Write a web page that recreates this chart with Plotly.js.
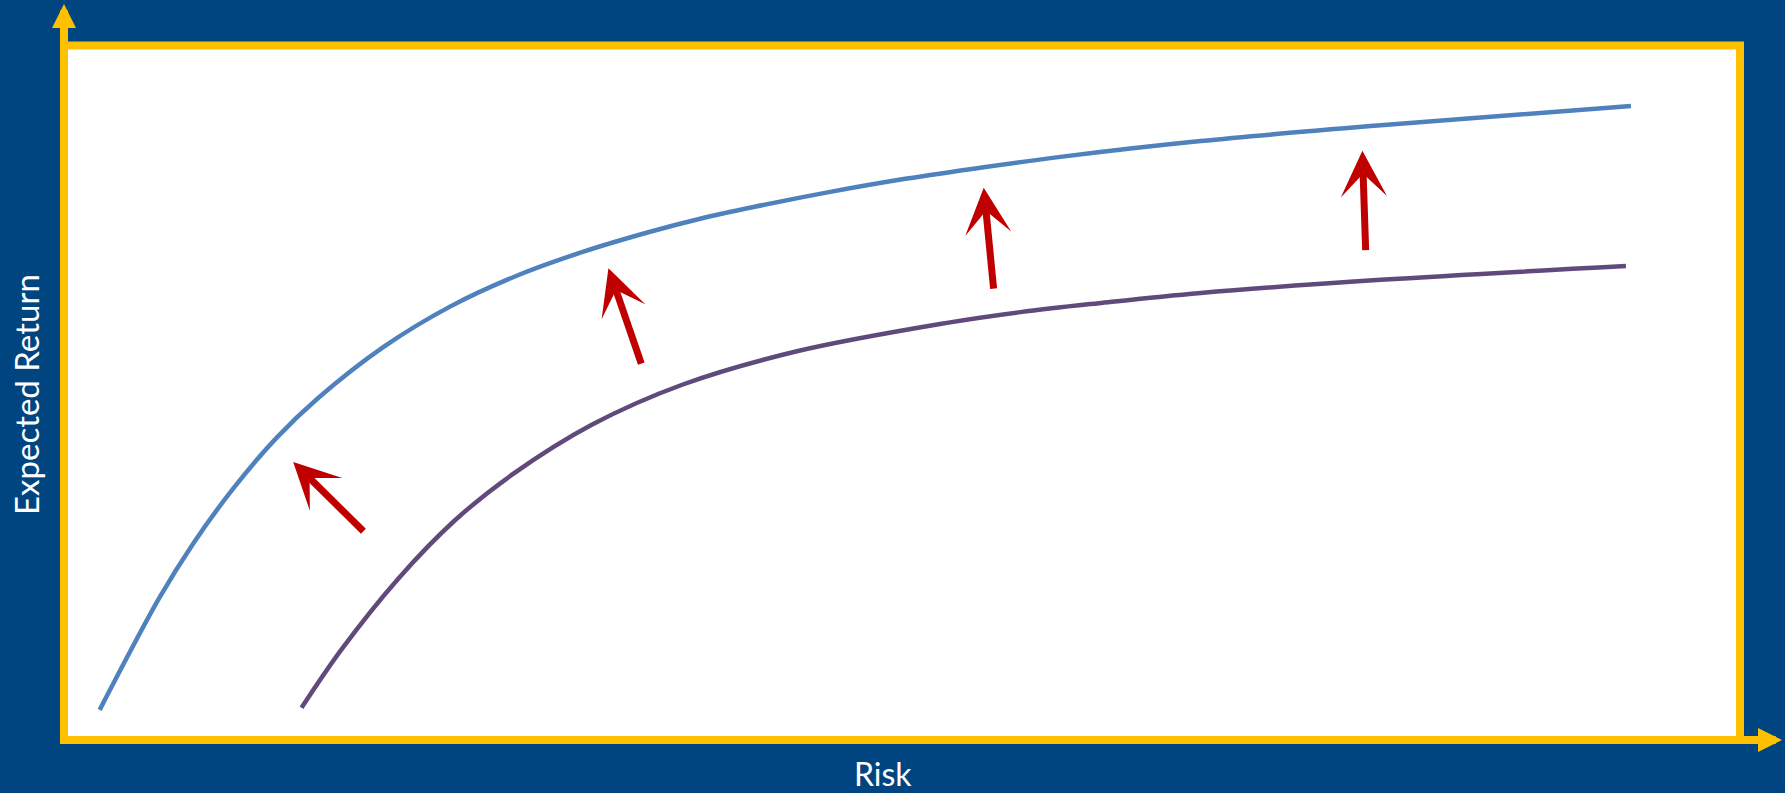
<!DOCTYPE html>
<html>
<head>
<meta charset="utf-8">
<script src="https://cdn.plot.ly/plotly-3.0.1.min.js"></script>
<style>html,body{margin:0;padding:0;background:#00457F;}#chart{width:1785px;height:793px;}</style>
</head>
<body>
<div id="chart"></div>
<script>
// Efficient frontier curves (risk vs expected return, arbitrary 0-100 units)
const upperRisk   = [1.9, 5.5, 7.5, 9.9, 12.5, 15.0, 18.9, 22.9, 26.9, 30.9, 34.9, 37.9, 41.1, 45.7, 50.2, 54.9, 59.5, 67.9, 78.7, 93.7];
const upperReturn = [3.8, 20.2, 28.0, 36.0, 43.4, 49.2, 56.6, 62.5, 67.0, 70.5, 73.4, 75.3, 77.0, 79.2, 81.1, 82.8, 84.3, 86.6, 88.9, 91.7];

const lowerRisk   = [14.0, 16.4, 19.8, 23.2, 26.6, 31.4, 36.9, 43.7, 52.6, 57.1, 61.8, 67.9, 78.7, 93.4];
const lowerReturn = [4.1, 12.6, 22.9, 31.4, 38.0, 45.3, 51.2, 56.0, 60.1, 61.7, 63.0, 64.5, 66.4, 68.4];

// Shift arrows: tail (from) -> tip (to)
const arrowFromRisk   = [17.8, 34.4, 55.5, 77.8];
const arrowFromReturn = [29.6, 54.0, 64.9, 70.5];
const arrowToRisk     = [13.5, 32.4, 54.9, 77.6];
const arrowToReturn   = [39.9, 68.1, 79.8, 85.2];

const xLabel = 'Risk';
const yLabel = 'Expected Return';

const BG = '#00457F', GOLD = '#FFC000', RED = '#C00000';

const traces = [
  {x: upperRisk, y: upperReturn, mode: 'lines', line: {color: '#4F81BD', width: 4.5, shape: 'spline', smoothing: 1}, hoverinfo: 'skip'},
  {x: lowerRisk, y: lowerReturn, mode: 'lines', line: {color: '#604A7B', width: 4.5, shape: 'spline', smoothing: 1}, hoverinfo: 'skip'}
];

const annotations = arrowFromRisk.map((fx, i) => ({
  x: arrowToRisk[i], y: arrowToReturn[i], xref: 'x', yref: 'y',
  ax: fx, ay: arrowFromReturn[i], axref: 'x', ayref: 'y',
  text: '', showarrow: true, arrowhead: 3, arrowsize: 1.1, arrowwidth: 7, arrowcolor: RED, standoff: 0
}));

// axis arrows (paper coords; plot box is 1668 x 687 px)
const pw = 1668, ph = 687;
annotations.push({
  x: -4/pw, y: 732/ph, xref: 'paper', yref: 'paper', axref: 'pixel', ayref: 'pixel', ax: 0, ay: 740,
  text: '', showarrow: true, arrowhead: 2, arrowsize: 0.6, arrowwidth: 8, arrowcolor: GOLD, standoff: 0
});
annotations.push({
  x: 1714/pw, y: -4/ph, xref: 'paper', yref: 'paper', axref: 'pixel', ayref: 'pixel', ax: -1722, ay: 0,
  text: '', showarrow: true, arrowhead: 2, arrowsize: 0.6, arrowwidth: 8, arrowcolor: GOLD, standoff: 0
});
annotations.push({
  x: 815/pw, y: -37/ph, xref: 'paper', yref: 'paper', xanchor: 'center', yanchor: 'middle',
  text: xLabel, showarrow: false, font: {family: 'Lato, "Open Sans", sans-serif', size: 32, color: '#FFFFFF'}
});
annotations.push({
  x: -42/pw, y: 341/ph, xref: 'paper', yref: 'paper', xanchor: 'center', yanchor: 'middle', textangle: -90,
  text: yLabel, showarrow: false, font: {family: 'Lato, "Open Sans", sans-serif', size: 33, color: '#FFFFFF'}
});

const layout = {
  width: 1785, height: 793,
  margin: {l: 68, r: 49, t: 49, b: 57, pad: 0},
  paper_bgcolor: BG, plot_bgcolor: '#FFFFFF',
  showlegend: false,
  xaxis: {range: [0, 100], showgrid: false, zeroline: false, showticklabels: false, ticks: '', showline: false, fixedrange: true},
  yaxis: {range: [0, 100], showgrid: false, zeroline: false, showticklabels: false, ticks: '', showline: false, fixedrange: true},
  shapes: [
    {type: 'rect', xref: 'paper', yref: 'paper', x0: -4/pw, x1: 1672/pw, y0: -4/ph, y1: 690.5/ph,
     line: {color: GOLD, width: 8}, fillcolor: 'rgba(0,0,0,0)', layer: 'above'}
  ],
  annotations: annotations
};

Plotly.newPlot('chart', traces, layout, {staticPlot: true, displayModeBar: false});
</script>
</body>
</html>
